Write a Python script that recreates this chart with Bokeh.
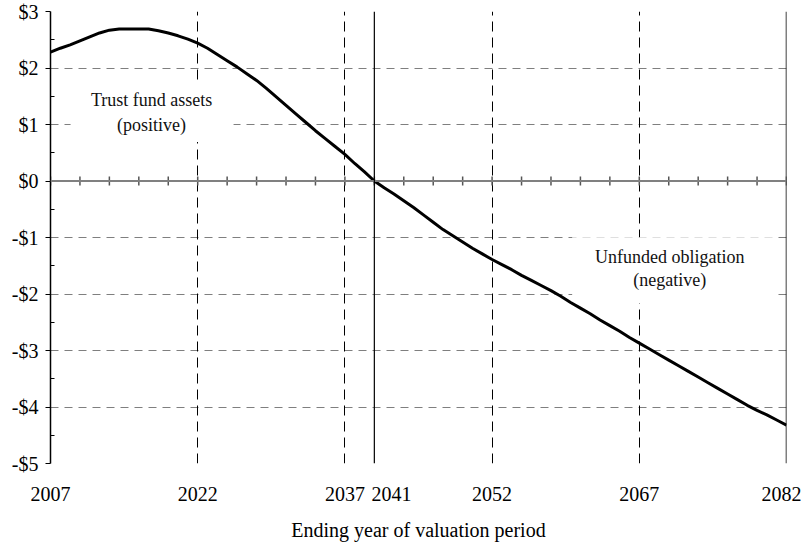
import numpy as np
from bokeh.plotting import figure
from bokeh.models import FixedTicker, Grid, Span, Range1d, ColumnDataSource
from bokeh.core.properties import value
from bokeh.embed import file_html
from bokeh.resources import INLINE

# ---- data -------------------------------------------------------------
years = list(range(2007, 2083))
balance = [
    2.28, 2.35, 2.41, 2.48, 2.55, 2.62, 2.67, 2.69, 2.69, 2.69,   # 2007-2016
    2.69, 2.66, 2.62, 2.57, 2.51, 2.44, 2.35, 2.24, 2.13, 2.02,   # 2017-2026
    1.90, 1.78, 1.64, 1.49, 1.34, 1.19, 1.04, 0.89, 0.75, 0.61,   # 2027-2036
    0.47, 0.31, 0.16, 0.00, -0.12, -0.23, -0.35, -0.47, -0.60, -0.73,  # 2037-2046
    -0.86, -0.97, -1.08, -1.19, -1.29, -1.39, -1.48, -1.57, -1.67, -1.76,  # 2047-2056
    -1.85, -1.94, -2.04, -2.15, -2.25, -2.35, -2.46, -2.56, -2.66, -2.77,  # 2057-2066
    -2.87, -2.97, -3.07, -3.17, -3.27, -3.37, -3.47, -3.57, -3.67, -3.77,  # 2067-2076
    -3.87, -3.97, -4.06, -4.14, -4.23, -4.32,                              # 2077-2082
]
assert len(years) == len(balance)

y_ticks = [-5, -4, -3, -2, -1, 0, 1, 2, 3]
y_tick_labels = ["-$5", "-$4", "-$3", "-$2", "-$1", "$0", "$1", "$2", "$3"]
y_minor_ticks = [-4.5, -3.5, -2.5, -1.5, -0.5, 0.5, 1.5, 2.5]

x_ticks = [2007, 2022, 2037, 2041.75, 2052, 2067, 2082]
x_tick_labels = ["2007", "2022", "2037", "2041", "2052", "2067", "2082"]
x_grid_years = [2022, 2037, 2052, 2067]
zero_axis_ticks = list(range(2007, 2083, 3))
exhaustion_line = 2040

annotations_x = [2017.3, 2017.3, 2070.1, 2070.1]
annotations_y = [1.43, 1.00, -1.34, -1.76]
annotations_text = ["Trust fund assets", "(positive)", "Unfunded obligation", "(negative)"]

# white boxes behind the two annotation blocks (centre in data units, size in px)
box_x = [2017.35, 2070.4]
box_y = [1.22, -1.58]
box_w = [163, 201]
box_h = [60, 66]

FONT = "Liberation Serif"

# ---- figure -----------------------------------------------------------
p = figure(frame_width=736, frame_height=452,
           min_border_left=50, min_border_right=15, min_border_top=11, min_border_bottom=10,
           x_range=Range1d(2007, 2082), y_range=Range1d(-5, 3),
           output_backend="svg", toolbar_location=None,
           background_fill_color="white", border_fill_color="white")
p.outline_line_color = None

# y axis
p.yaxis.ticker = FixedTicker(ticks=y_ticks, minor_ticks=y_minor_ticks)
p.yaxis.major_label_overrides = {t: l for t, l in zip(y_ticks, y_tick_labels)}
p.yaxis.axis_line_color = "black"
p.yaxis.axis_line_width = 1.5
p.yaxis.major_tick_out = 5
p.yaxis.major_tick_in = 0
p.yaxis.major_tick_line_color = "black"
p.yaxis.minor_tick_in = 4
p.yaxis.minor_tick_out = 0
p.yaxis.minor_tick_line_color = "black"
p.yaxis.major_label_standoff = 7
p.yaxis.major_label_text_font = FONT
p.yaxis.major_label_text_font_size = "20px"
p.yaxis.major_label_text_color = "black"

# x axis
p.xaxis.ticker = FixedTicker(ticks=x_ticks)
p.xaxis.major_label_overrides = {t: l for t, l in zip(x_ticks, x_tick_labels)}
p.xaxis.axis_line_color = None
p.xaxis.major_tick_line_color = None
p.xaxis.minor_tick_line_color = None
p.xaxis.major_tick_out = 0
p.xaxis.major_tick_in = 0
p.xaxis.major_label_standoff = 23
p.xaxis.major_label_text_font = FONT
p.xaxis.major_label_text_font_size = "20px"
p.xaxis.major_label_text_color = "black"
p.xaxis.axis_label = "Ending year of valuation period"
p.xaxis.axis_label_text_font = FONT
p.xaxis.axis_label_text_font_size = "20px"
p.xaxis.axis_label_text_font_style = "normal"
p.xaxis.axis_label_text_color = "black"
p.xaxis.axis_label_standoff = 15

# grids
p.xgrid.visible = False
p.ygrid.grid_line_color = "#7f7f7f"
p.ygrid.grid_line_dash = "8 6"
p.ygrid.grid_line_width = 1
vgrid = Grid(dimension=0, ticker=FixedTicker(ticks=x_grid_years),
             grid_line_color="black", grid_line_dash="10 6", grid_line_width=1)
p.add_layout(vgrid)

# white boxes behind annotation text (cover gridlines)
p.rect(box_x, box_y, width=box_w, height=box_h, width_units="screen", height_units="screen",
       fill_color="white", line_color=None)

# right border, zero axis, exhaustion line
p.add_layout(Span(location=2082, dimension="height", line_color="black", line_width=1.5))
p.add_layout(Span(location=0, dimension="width", line_color="#808080", line_width=2))
p.add_layout(Span(location=exhaustion_line, dimension="height", line_color="black", line_width=1.2))

tick_src = ColumnDataSource(dict(x=zero_axis_ticks, y=[0] * len(zero_axis_ticks)))
p.scatter("x", "y", source=tick_src, marker="dash", size=9, angle=np.pi / 2,
          line_color="#555555", line_width=1.5)

# curve
src = ColumnDataSource(dict(year=years, bal=balance))
p.line("year", "bal", source=src, line_color="black", line_width=3)

# annotations
ann = ColumnDataSource(dict(x=annotations_x, y=annotations_y, t=annotations_text))
p.text("x", "y", text="t", source=ann, text_font=value(FONT), text_font_size="18px",
       text_align="center", text_baseline="middle", text_color="#111111")

open("out.html", "w").write(file_html(p, INLINE))
